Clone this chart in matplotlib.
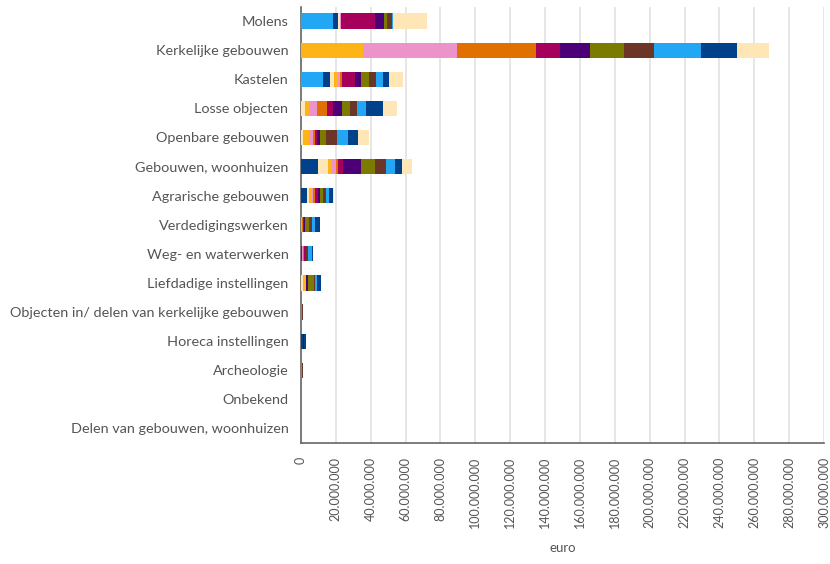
import numpy as np
import matplotlib
matplotlib.use("Agg")
import matplotlib.pyplot as plt
from matplotlib.ticker import FuncFormatter, MultipleLocator

plt.rcParams['font.family'] = ['Lato', 'DejaVu Sans']

# Categories (top to bottom)
categories = [
    "Molens", "Kerkelijke gebouwen", "Kastelen", "Losse objecten",
    "Openbare gebouwen", "Gebouwen, woonhuizen", "Agrarische gebouwen",
    "Verdedigingswerken", "Weg- en waterwerken", "Liefdadige instellingen",
    "Objecten in/ delen van kerkelijke gebouwen", "Horeca instellingen",
    "Archeologie", "Onbekend", "Delen van gebouwen, woonhuizen",
]

# Stacked series, values in millions of euro
series_names = ["reeks %d" % i for i in range(1, 14)]
s01 = [18.5, 0, 12.8, 0, 0, 0, 0, 0, 0, 0, 0, 0, 0, 0, 0]
s02 = [2.5, 0, 3.8, 0, 0, 9.5, 3.6, 0, 0.8, 0, 0, 1.3, 0, 0, 0]
s03 = [1.2, 0, 2.5, 2.3, 1.2, 6.1, 0.9, 0, 0, 1.3, 0, 0, 0, 0, 0]
s04 = [0, 35.4, 2.3, 2.3, 3.2, 1.9, 1.7, 0.3, 0, 1.5, 0, 0, 0, 0, 0]
s05 = [0.5, 54.2, 1.2, 4.4, 2.5, 2.3, 0.9, 0, 0.6, 0, 0, 0, 0, 0, 0]
s06 = [0.2, 45.1, 1.2, 5.7, 1.0, 1.5, 0.9, 1.1, 0.6, 0, 0.6, 0, 0.6, 0, 0]
s07 = [19.7, 13.7, 7.1, 3.8, 1.5, 2.9, 1.7, 0.4, 0.6, 0, 0, 0, 0, 0, 0]
s08 = [4.8, 17.2, 3.8, 5.2, 1.7, 10.5, 1.4, 0.5, 0, 1.3, 0, 0.3, 0, 0, 0]
s09 = [1.9, 19.7, 4.2, 4.4, 3.4, 7.6, 1.7, 2.1, 0.3, 3.4, 0, 0, 0, 0, 0]
s10 = [2.9, 17.2, 4.4, 3.8, 6.3, 6.3, 1.4, 1.9, 1.0, 0.8, 0.6, 0, 0.6, 0, 0]
s11 = [0.3, 27.1, 3.8, 5.3, 6.1, 5.2, 1.7, 1.9, 2.5, 1.1, 0, 0, 0, 0, 0]
s12 = [0.3, 20.7, 3.2, 9.9, 5.7, 4.2, 2.4, 2.5, 0.6, 1.9, 0, 1.3, 0, 0, 0]
s13 = [19.7, 17.9, 8.2, 8.2, 6.3, 5.7, 0.6, 0, 0, 0, 0, 0, 0, 0, 0]
series = [s01, s02, s03, s04, s05, s06, s07, s08, s09, s10, s11, s12, s13]

palette = ["#22a7f4", "#00418b", "#ffe6b6", "#fdb417", "#ec93cb", "#e07000",
           "#a6005d", "#4b0077", "#7b7b00", "#6b3528"]
colors = [palette[i % len(palette)] for i in range(len(series))]

fig = plt.figure(figsize=(8.3, 5.64), dpi=100)
ax = fig.add_axes([301 / 830, 1 - 443 / 564, 523 / 830, 436.5 / 564])

y = np.arange(len(categories))
left = np.zeros(len(categories))
for name, vals, col in zip(series_names, series, colors):
    v = np.array(vals) * 1e6
    ax.barh(y, v, left=left, height=0.52, color=col, label=name, zorder=3)
    left += v

ax.set_ylim(len(categories) - 0.5, -0.5)
ax.set_xlim(0, 300e6)
ax.xaxis.set_major_locator(MultipleLocator(20e6))
ax.xaxis.set_major_formatter(FuncFormatter(
    lambda x, _: "{:,.0f}".format(x).replace(",", ".")))
ax.set_yticks(y)
ax.set_yticklabels(categories)

ax.grid(axis="x", color="#e4e4e4", linewidth=1.3, zorder=0)
ax.grid(axis="y", visible=False)
for s in ["top", "right"]:
    ax.spines[s].set_visible(False)
for s in ["left", "bottom"]:
    ax.spines[s].set_color("#666666")
    ax.spines[s].set_linewidth(1.2)

ax.tick_params(axis="y", length=0, pad=9, labelsize=10.4, labelcolor="#555555")
ax.tick_params(axis="x", length=0, pad=10, labelsize=9, labelcolor="#555555",
               labelrotation=90)
ax.set_xlabel("euro", fontsize=9.5, color="#555555", labelpad=10)

fig.savefig("out.png", dpi=100)
